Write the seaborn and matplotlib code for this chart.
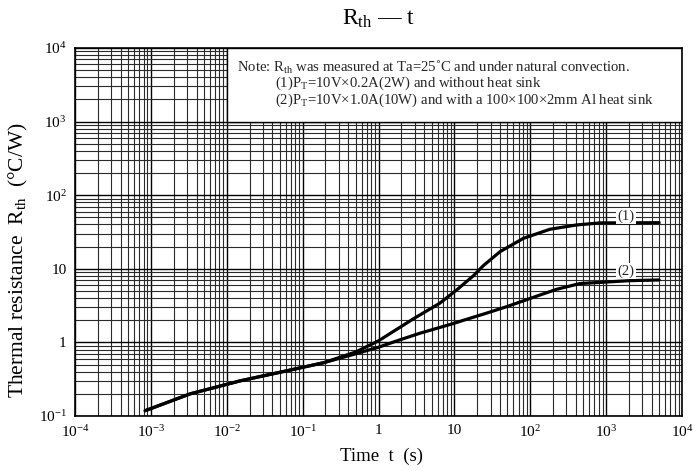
import numpy as np
import pandas as pd
import matplotlib
matplotlib.use("Agg")
import matplotlib.pyplot as plt
from matplotlib.patches import Rectangle
from matplotlib.ticker import FixedLocator, FixedFormatter, LogLocator, NullFormatter
import seaborn as sns

# Transient thermal resistance vs. time, two mounting conditions
t_curve1 = [8.4e-4, 3.3e-3, 0.015, 0.068, 0.19, 0.5, 1.0, 2.9, 6.4, 10.7, 17.7, 24,
            40, 81, 181, 407, 830, 5000]
r_curve1 = [0.118, 0.20, 0.30, 0.42, 0.53, 0.74, 1.05, 2.1, 3.4, 5.15, 8.0, 11.0,
            17.1, 25.9, 34.4, 39.4, 42.0, 42.3]

t_curve2 = [8.4e-4, 3.3e-3, 0.015, 0.068, 0.19, 0.5, 1.0, 2.0, 3.5, 9.6, 14.5, 26, 49,
            134, 222, 450, 2050, 5000]
r_curve2 = [0.118, 0.20, 0.30, 0.42, 0.53, 0.70, 0.86, 1.1, 1.33, 1.8, 2.06, 2.48, 3.06,
            4.4, 5.26, 6.3, 6.9, 7.05]

curve_names = ["(1)", "(2)"]
curve_label_pos = [(1820, 52), (1820, 9.3)]

x_ticks = [1e-4, 1e-3, 1e-2, 1e-1, 1, 10, 1e2, 1e3, 1e4]
x_tick_labels = [r"$10^{-4}$", r"$10^{-3}$", r"$10^{-2}$", r"$10^{-1}$", "1", "10",
                 r"$10^{2}$", r"$10^{3}$", r"$10^{4}$"]
y_ticks = [1e-1, 1, 10, 1e2, 1e3, 1e4]
y_tick_labels = [r"$10^{-1}$", "1", "10", r"$10^{2}$", r"$10^{3}$", r"$10^{4}$"]

note_lines = [
    r"Note: R$_{\rm th}$ was measured at Ta=25˚C and under natural convection.",
    r"(1)P$_{\rm T}$=10V×0.2A(2W) and without heat sink",
    r"(2)P$_{\rm T}$=10V×1.0A(10W) and with a 100×100×2mm Al heat sink",
]

sns.set_theme(style="white")
plt.rcParams["font.family"] = ["Liberation Serif", "DejaVu Serif"]
plt.rcParams["mathtext.fontset"] = "custom"
plt.rcParams["mathtext.rm"] = "Liberation Serif"
plt.rcParams["mathtext.it"] = "Liberation Serif:italic"
plt.rcParams["mathtext.bf"] = "Liberation Serif:bold"
plt.rcParams["axes.unicode_minus"] = True

df = pd.concat([
    pd.DataFrame({"t": t_curve1, "R": r_curve1, "curve": curve_names[0]}),
    pd.DataFrame({"t": t_curve2, "R": r_curve2, "curve": curve_names[1]}),
])

fig = plt.figure(figsize=(6.96, 4.71), dpi=100)
ax = fig.add_axes([0.1078, 0.1168, 0.8721, 0.7813])
ax.set_axisbelow(True)

sns.lineplot(data=df, x="t", y="R", units="curve", estimator=None, sort=False,
             color="black", linewidth=2.3, ax=ax, zorder=4, legend=False)

ax.set_xscale("log")
ax.set_yscale("log")
ax.set_xlim(1e-4, 1e4)
ax.set_ylim(1e-1, 1e4)

ax.xaxis.set_major_locator(FixedLocator(x_ticks))
ax.xaxis.set_major_formatter(FixedFormatter(x_tick_labels))
ax.yaxis.set_major_locator(FixedLocator(y_ticks))
ax.yaxis.set_major_formatter(FixedFormatter(y_tick_labels))
ax.xaxis.set_minor_locator(LogLocator(base=10, subs=np.arange(2, 10), numticks=50))
ax.yaxis.set_minor_locator(LogLocator(base=10, subs=np.arange(2, 10), numticks=50))
ax.xaxis.set_minor_formatter(NullFormatter())
ax.yaxis.set_minor_formatter(NullFormatter())

ax.grid(which="major", color="black", linewidth=1.0)
ax.grid(which="minor", color="#2a2a2a", linewidth=0.8)
ax.tick_params(which="both", direction="in", labelsize=11, colors="black",
               length=3, width=0.8, pad=6)
ax.tick_params(which="minor", length=2)

for s in ax.spines.values():
    s.set_color("black")
    s.set_linewidth(1.2)

# White panel holding the measurement note
ax.add_patch(Rectangle((1e-2, 1e3), 1e4 - 1e-2, 1e4 - 1e3, facecolor="white",
                       edgecolor="black", linewidth=1.0, zorder=1))
ax.text(1.36e-2, 10 ** 3.735, note_lines[0], fontsize=10.6, va="center", ha="left", zorder=5)
ax.text(4.3e-2, 10 ** 3.52, note_lines[1], fontsize=10.6, va="center", ha="left", zorder=5)
ax.text(4.3e-2, 10 ** 3.29, note_lines[2], fontsize=10.6, va="center", ha="left", zorder=5)

for name, (xp, yp) in zip(curve_names, curve_label_pos):
    ax.text(xp, yp, name, fontsize=10.5, ha="center", va="center", zorder=5,
            bbox=dict(boxstyle="square,pad=0.1", facecolor="white", edgecolor="none"))

ax.set_xlabel("Time  t  (s)", fontsize=13.5, color="black", va="center")
ax.set_ylabel(r"Thermal resistance  R$_{\rm th}$  (°C/W)", fontsize=15.5, color="black",
              va="center")
ax.xaxis.set_label_coords(0.505, -0.111)
ax.yaxis.set_label_coords(-0.093, 0.424)
ax.set_title(r"R$_{\rm th}$ — t", fontsize=17, color="black", y=1.079, pad=0, va="center")

fig.savefig("out.png", dpi=100)
